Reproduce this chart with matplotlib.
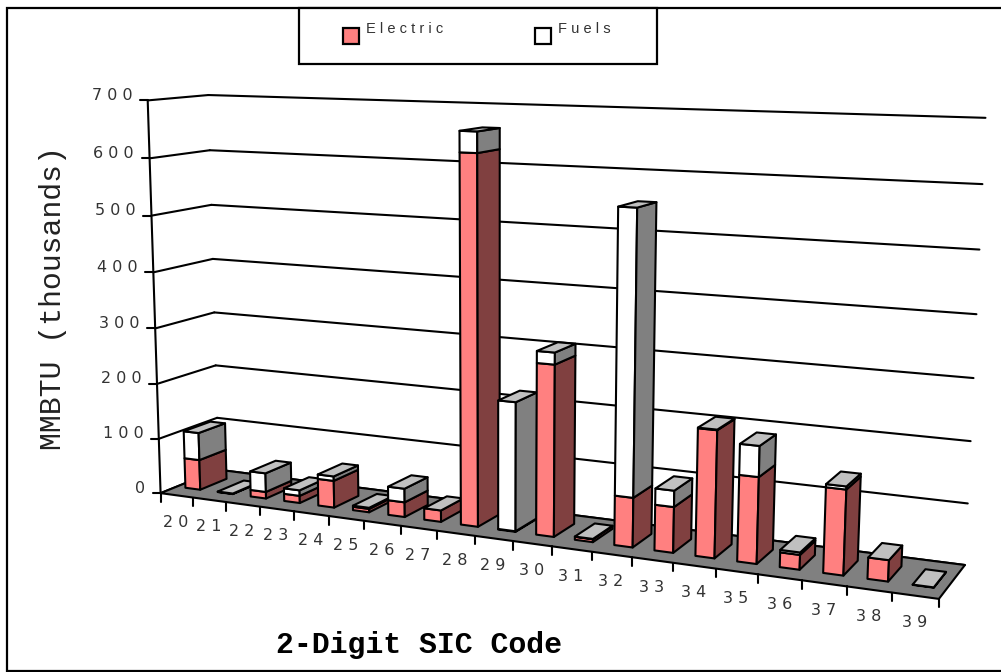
#region Imports
import numpy as np, matplotlib
matplotlib.use('Agg')
import matplotlib.pyplot as plt
from matplotlib.patches import Polygon, Rectangle
#endregion
#region Data
sic_codes = ['20','21','22','23','24','25','26','27','28','29','30','31','32','33','34','35','36','37','38','39']
electric = [55, 0.5, 12, 13, 48, 6, 26, 20, 628, 1, 290, 5, 83, 76, 209, 141, 24, 137, 34, 0.5]
fuels = [50, 0.5, 34, 10, 8, 2, 24, 0, 35, 220, 20, 0.5, 470, 27, 1, 50, 4, 5, 0, 0]
y_ticks = [0, 100, 200, 300, 400, 500, 600, 700]
series_names = ['Electric', 'Fuels']
#endregion
#region Perspective
# picture anchors: (across, depth, value) -> pixel, used to fit the 3-D view
anchors = [
    (0, 0, 0, 161, 494), (0, 0, 700, 147, 100), (0, 0, 600, 149.5, 158), (0, 0, 100, 159.5, 440),
    (0, 1, 0, 218, 469), (0, 1, 700, 209, 95.7), (0, 1, 600, 210, 150), (0, 1, 100, 216.7, 417),
    (1, 1, 0, 965.7, 565.7), (1, 1, 700, 985, 118), (1, 1, 600, 983, 184), (1, 1, 100, 967, 504),
    (1, 0, 0, 939, 597.7), (0.5, 0, 0, 512.7, 540.7),
]
rows, rhs = [], []
for u, d, v, px, py in anchors:
    X = [u, d, v / 700, 1]
    rows.append(X + [0, 0, 0, 0] + [-px * c for c in X[:3]])
    rhs.append(px)
    rows.append([0, 0, 0, 0] + X + [-py * c for c in X[:3]])
    rhs.append(py)
h = np.linalg.lstsq(np.array(rows), np.array(rhs), rcond=None)[0]
P = np.append(h, 1).reshape(3, 4)

def project(u, d, v):
    p = P @ np.array([u, d, v / 700, 1])
    return p[0] / p[2], p[1] / p[2]
#endregion
#region Drawing helpers
LW = 1.5
def face(ax, pts, color, z=2):
    ax.add_patch(Polygon([project(*p) for p in pts], closed=True, facecolor=color, edgecolor='black', linewidth=LW, joinstyle='round', zorder=z))

def spaced(s):
    return ' '.join(s)

def segment(ax, a, b, lw=LW, z=1):
    ax.plot([a[0], b[0]], [a[1], b[1]], color='black', lw=lw, zorder=z, solid_capstyle='round')
#endregion
#region Plot
fig = plt.figure(figsize=(10.01, 6.72), dpi=100)
ax = fig.add_axes([0, 0, 1, 1])
ax.set_xlim(0, 1001)
ax.set_ylim(672, 0)
ax.axis('off')
tick_font = 'DejaVu Sans'
label_font = 'Liberation Sans'
label_color = '#333333'

# outer frame runs off the right edge
ax.add_patch(Rectangle((6.5, 7.5), 1010, 663, facecolor='white', edgecolor='black', linewidth=1.6, zorder=0))

# gridlines on the two walls
for t in y_ticks:
    segment(ax, project(0, 0, t), project(0, 1, t))
    segment(ax, project(0, 1, t), project(1, 1, t))
    x, y = project(0, 0, t)
    segment(ax, (x - 8, y), (x, y))
    ax.text(x - 15.5, y - 5, spaced(str(t)), ha='right', va='center', fontsize=11.5, family=tick_font, color=label_color)
segment(ax, project(0, 0, 0), project(0, 0, 700))

# floor
face(ax, [(0, 0, 0), (1, 0, 0), (1, 1, 0), (0, 1, 0)], '#808080', z=1.5)

# category ticks and labels
n = len(sic_codes)
for i in range(n + 1):
    x, y = project(i / n, 0, 0)
    segment(ax, (x, y), (x, y + 8.5), z=1.6)
for i, code in enumerate(sic_codes):
    x, y = project((i + 0.5) / n, 0, 0)
    ax.text(x - 1, y + 27, spaced(code), ha='center', va='center', fontsize=11.5, family=tick_font, color=label_color)

# stacked bars, left to right
w = 0.46
for i in range(n):
    u0, u1 = (i + 0.5 - w / 2) / n, (i + 0.5 + w / 2) / n
    d0, d1 = 0.5 - w / 2, 0.5 + w / 2
    low = 0
    for value, front, side in [(electric[i], '#FF8080', '#804040'), (fuels[i], 'white', '#808080')]:
        high = low + value
        if value > 0:
            face(ax, [(u0, d0, low), (u1, d0, low), (u1, d0, high), (u0, d0, high)], front, z=3 + i)
            face(ax, [(u1, d0, low), (u1, d1, low), (u1, d1, high), (u1, d0, high)], side, z=3 + i)
        low = high
    face(ax, [(u0, d0, low), (u1, d0, low), (u1, d1, low), (u0, d1, low)], '#C0C0C0', z=3 + i)

# axis titles
ax.text(53, 298, 'MMBTU (thousands)', rotation=90, ha='center', va='center', fontsize=21.5, family='Liberation Mono', color='#222222')
ax.text(418.5, 645, '2-Digit SIC Code', ha='center', va='center', fontsize=21.5, family='Liberation Mono', fontweight='bold', color='black')

# legend
ax.add_patch(Rectangle((299, 8), 358, 55.5, facecolor='white', edgecolor='black', linewidth=1.6, zorder=30))
for x0, name, c in zip([343, 535], series_names, ['#FF8080', 'white']):
    ax.add_patch(Rectangle((x0, 28), 16, 16, facecolor=c, edgecolor='black', linewidth=1.6, zorder=31))
    ax.text(x0 + 23, 29, spaced(name), ha='left', va='center', fontsize=10.5, family=label_font, color=label_color, zorder=31)

plt.savefig('out.png', dpi=100)
#endregion
